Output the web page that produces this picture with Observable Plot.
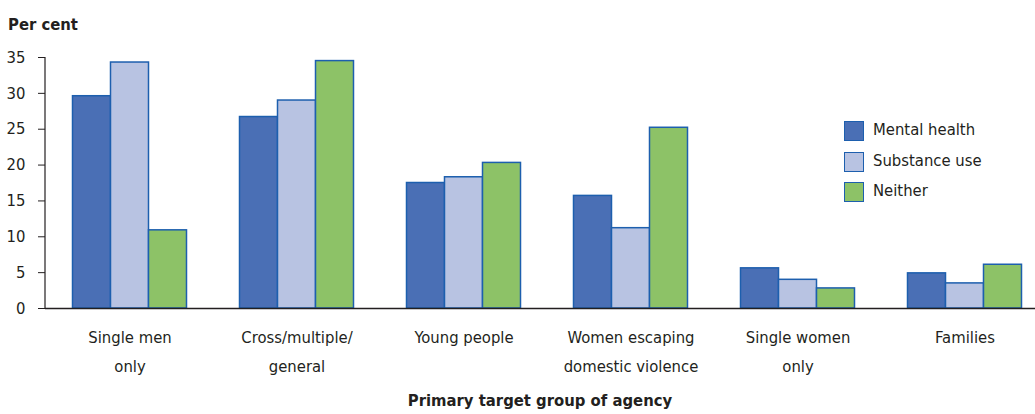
<!DOCTYPE html>
<html><head><meta charset="utf-8">
<script src="https://cdn.jsdelivr.net/npm/d3@7"></script>
<script src="https://cdn.jsdelivr.net/npm/@observablehq/plot@0.6"></script>
<style>
body{margin:0;background:#fff;}
#wrap{position:relative;width:1035px;height:414px;overflow:hidden;font-family:"DejaVu Sans Condensed","DejaVu Sans",sans-serif;font-stretch:condensed;color:#231f20;}
#ytitle{position:absolute;left:8px;top:14.5px;font-size:16.5px;font-weight:bold;line-height:normal;white-space:nowrap;}
#chart{position:absolute;left:0;top:40px;}
#xtitle{position:absolute;left:45px;width:990px;top:390.5px;text-align:center;font-size:16.5px;font-weight:bold;line-height:normal;white-space:nowrap;}
#legend{position:absolute;left:844px;top:121px;}
.row{position:relative;height:30.5px;}
.sw{position:absolute;left:0;top:0;width:20px;height:20px;box-sizing:border-box;border:1.5px solid #1d5fae;}
.lab{position:absolute;left:29px;top:-1px;font-size:16.5px;line-height:normal;white-space:nowrap;}
</style></head><body>
<div id="wrap">
  <div id="ytitle">Per cent</div>
  <div id="chart"></div>
  <div id="legend"></div>
  <div id="xtitle">Primary target group of agency</div>
</div>
<script>
const categories = ["Single men only", "Cross/multiple/general", "Young people", "Women escaping domestic violence", "Single women only", "Families"];
const categoryLabels = ["Single men\nonly", "Cross/multiple/\ngeneral", "Young people", "Women escaping\ndomestic violence", "Single women\nonly", "Families"];
const series = ["Mental health", "Substance use", "Neither"];
const mentalHealth = [29.6, 26.7, 17.5, 15.7, 5.6, 4.9];
const substanceUse = [34.3, 29.0, 18.3, 11.2, 4.0, 3.5];
const neither = [10.9, 34.5, 20.3, 25.2, 2.8, 6.1];
const seriesColors = ["#4a6fb5", "#b8c3e2", "#8dc267"];
const yTicks = [0, 5, 10, 15, 20, 25, 30, 35];

const FONT = '"DejaVu Sans Condensed","DejaVu Sans",sans-serif';
const INK = "#231f20";
const EDGE = "#1d5fae";

const valuesBySeries = [mentalHealth, substanceUse, neither];
const rows = [];
series.forEach((s, j) => categories.forEach((c, i) => rows.push({category: c, series: s, value: valuesBySeries[j][i]})));

const plot = Plot.plot({
  width: 1035, height: 374,
  marginTop: 17, marginBottom: 106, marginLeft: 45, marginRight: 0,
  style: {fontFamily: FONT, fontStretch: "condensed", fontSize: "16.5px", color: INK, background: "transparent"},
  x: {domain: categories, range: [45.5, 1047.5], padding: 0, axis: null},
  y: {domain: [0, 35]},
  color: {domain: series, range: seriesColors},
  marks: [
    ...series.map((s, j) => Plot.barY(rows.filter(r => r.series === s), {
      x: "category", y: "value", fill: "series", stroke: EDGE, strokeWidth: 1.5,
      insetLeft: 64.5, insetRight: 64.5, dx: (j - 1) * 38
    })),
    Plot.ruleY([0], {stroke: INK, strokeWidth: 1.5}),
    Plot.axisY({ticks: yTicks, tickSize: 7, tickPadding: 13, fontSize: 16.5, label: null, stroke: INK}),
    Plot.text(categories, {x: d => d, text: (d, i) => categoryLabels[i], frameAnchor: "bottom", lineAnchor: "top", dy: 14, lineHeight: 1.76, fontSize: 16.5, fill: INK})
  ]
});

const y = plot.scale("y");
d3.select(plot).append("line")
  .attr("x1", 45).attr("x2", 45)
  .attr("y1", y.apply(0)).attr("y2", y.apply(35))
  .attr("stroke", INK).attr("stroke-width", 1.2);

document.getElementById("chart").appendChild(plot);

const legend = d3.select("#legend");
series.forEach((s, j) => {
  const row = legend.append("div").attr("class", "row");
  row.append("div").attr("class", "sw").style("background", seriesColors[j]);
  row.append("div").attr("class", "lab").text(s);
});
</script>
</body></html>
